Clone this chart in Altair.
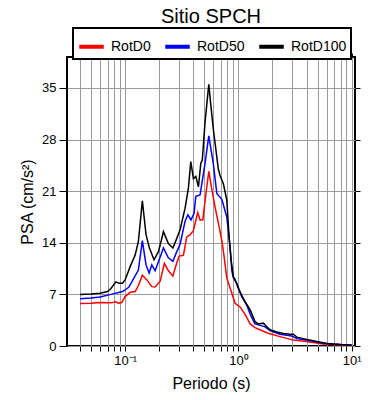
import altair as alt
import pandas as pd

# ---- data ----
series_names = ["RotD0", "RotD50", "RotD100"]
series_colors = ["#ff0000", "#0000ff", "#000000"]

period_d0 = [0.040, 0.050, 0.060, 0.075, 0.083, 0.087, 0.0935, 0.100, 0.111, 0.123,
             0.131, 0.142, 0.155, 0.172, 0.184, 0.204, 0.222, 0.241, 0.264, 0.286,
             0.300, 0.327, 0.350, 0.375, 0.400, 0.438, 0.459, 0.485, 0.508, 0.548,
             0.580, 0.623, 0.680, 0.720, 0.750, 0.790, 0.870, 0.935, 1.035, 1.146,
             1.270, 1.400, 1.550, 1.720, 1.900, 2.330, 3.060, 4.000, 5.600, 10.0]
psa_d0 = [5.75, 5.8, 5.9, 5.85, 6.0, 5.8, 5.9, 6.7, 7.3, 7.4,
          8.2, 9.6, 9.0, 8.05, 8.0, 8.8, 11.2, 10.2, 9.5, 11.3,
          12.2, 12.3, 14.8, 15.1, 15.6, 18.1, 17.1, 17.1, 19.7, 23.7,
          21.4, 18.8, 16.0, 14.0, 12.0, 9.2, 7.3, 5.8, 5.3, 4.3,
          3.0, 2.5, 2.2, 1.9, 1.65, 1.27, 0.8, 0.6, 0.27, 0.05]

period_d50 = [0.040, 0.050, 0.060, 0.075, 0.095, 0.100, 0.108, 0.131, 0.142, 0.153,
              0.163, 0.172, 0.184, 0.200, 0.218, 0.240, 0.264, 0.286, 0.306, 0.338,
              0.358, 0.382, 0.406, 0.421, 0.459, 0.508, 0.548, 0.600, 0.645, 0.714,
              0.790, 0.845, 0.874, 0.900, 0.968, 1.070, 1.190, 1.270, 1.400, 1.550,
              1.720, 1.900, 2.330, 2.960, 3.280, 4.000, 5.630, 7.900, 10.0]
psa_d50 = [6.4, 6.5, 6.65, 7.0, 7.4, 7.6, 8.0, 10.3, 14.3, 11.0,
           9.9, 11.0, 10.2, 11.7, 13.3, 12.0, 11.5, 12.8, 13.8, 16.9,
           17.8, 17.1, 18.0, 20.3, 20.5, 24.8, 28.5, 24.8, 20.7, 19.9,
           17.5, 13.5, 10.3, 9.3, 8.5, 6.7, 5.5, 4.3, 3.0, 2.8,
           2.6, 2.1, 1.6, 1.35, 1.0, 0.8, 0.38, 0.2, 0.1]

period_d100 = [0.040, 0.050, 0.060, 0.070, 0.075, 0.083, 0.0885, 0.0947, 0.100, 0.111,
               0.1225, 0.131, 0.142, 0.153, 0.164, 0.180, 0.197, 0.218, 0.241, 0.264,
               0.286, 0.306, 0.3385, 0.362, 0.380, 0.401, 0.421, 0.444, 0.466, 0.480,
               0.508, 0.548, 0.571, 0.600, 0.623, 0.665, 0.690, 0.737, 0.790, 0.830,
               0.862, 0.903, 0.935, 1.000, 1.035, 1.146, 1.270, 1.404, 1.500, 1.662,
               1.781, 1.905, 2.183, 2.495, 2.860, 3.058, 3.277, 3.748, 4.010, 4.920,
               6.030, 7.900, 10.0]
psa_d100 = [7.0, 7.05, 7.15, 7.4, 7.8, 8.7, 8.5, 8.5, 8.96, 10.8,
            12.3, 14.2, 19.7, 15.1, 13.3, 11.7, 12.8, 15.5, 13.9, 13.3,
            14.6, 15.8, 18.7, 21.4, 25.0, 22.7, 23.0, 21.6, 24.8, 25.2,
            30.4, 35.5, 32.7, 29.5, 27.5, 24.0, 23.1, 22.0, 19.8, 14.5,
            11.7, 9.4, 9.0, 7.8, 7.3, 6.0, 4.9, 3.3, 3.0, 3.1,
            2.6, 2.2, 1.9, 1.7, 1.6, 1.6, 1.2, 1.0, 0.9, 0.6,
            0.35, 0.2, 0.12]

x_ticks = [0.04, 0.05, 0.06, 0.07, 0.08, 0.09,
           0.1, 0.2, 0.3, 0.4, 0.5, 0.6, 0.7, 0.8, 0.9,
           1, 2, 3, 4, 5, 6, 7, 8, 9, 10]
y_ticks = [0, 7, 14, 21, 28, 35]
x_domain = [0.0307, 10.7]
y_domain = [0, 39.2]

rows = []
for name, per, val in [("RotD0", period_d0, psa_d0),
                       ("RotD50", period_d50, psa_d50),
                       ("RotD100", period_d100, psa_d100)]:
    for i, (p, v) in enumerate(zip(per, val)):
        rows.append({"serie": name, "periodo": p, "psa": v, "orden": i})
df = pd.DataFrame(rows)

FONT = "Liberation Sans"
label_expr = ("datum.value == 0.1 ? '10\u207b\u00b9' : datum.value == 1 ? '10\u2070' : "
              "datum.value == 10 ? '10\u00b9' : ''")

xscale = alt.Scale(type="log", domain=x_domain, nice=False)
yscale = alt.Scale(domain=y_domain, nice=False, zero=False)
cscale = alt.Scale(domain=series_names, range=series_colors)

base = alt.Chart(df)

lines = base.mark_line(strokeWidth=1.5, clip=True).encode(
    x=alt.X("periodo:Q", scale=xscale,
            axis=alt.Axis(orient="bottom", values=x_ticks, labelExpr=label_expr,
                          title="Periodo (s)", grid=True, tickSize=5, labelPadding=3,
                          labelFontSize=13, titleFontSize=16, titlePadding=8,
                          labelFlush=False)),
    y=alt.Y("psa:Q", scale=yscale,
            axis=alt.Axis(orient="left", values=y_ticks, title="PSA (cm/s\u00b2)",
                          grid=True, tickSize=8, labelPadding=3, labelFontSize=13,
                          titleFontSize=16, titlePadding=6)),
    color=alt.Color("serie:N", scale=cscale, sort=series_names,
                    legend=alt.Legend(orient="none", legendX=6, legendY=-29,
                                      direction="horizontal", title=None,
                                      symbolType="stroke", symbolSize=600,
                                      symbolStrokeWidth=4, labelFontSize=14,
                                      labelFont=FONT, labelOffset=5,
                                      columnPadding=6, padding=4,
                                      strokeColor="black", fillColor="white")),
    order="orden:Q",
)

frame_axes = base.mark_line(opacity=0).encode(
    x=alt.X("periodo:Q", scale=xscale,
            axis=alt.Axis(orient="top", values=x_ticks, labels=False, title=None,
                          grid=False, tickSize=4)),
    y=alt.Y("psa:Q", scale=yscale,
            axis=alt.Axis(orient="right", values=y_ticks, labels=False, title=None,
                          grid=False, tickSize=5)),
    detail="serie:N",
)

chart = alt.layer(lines, frame_axes).resolve_axis(
    x="independent", y="independent"
).properties(
    width=288,
    height=289,
    title=alt.TitleParams("Sitio SPCH", fontSize=20, font=FONT, fontWeight="normal",
                          anchor="middle", offset=0, dy=16, baseline="alphabetic"),
    autosize=alt.AutoSizeParams(type="none"),
    padding={"left": 59, "top": 49, "right": 20, "bottom": 52},
).configure_view(
    stroke="black", strokeWidth=2
).configure_legend(
    strokeWidth=2
).configure_axis(
    labelFont=FONT, titleFont=FONT, titleFontWeight="normal",
    domain=False, gridColor="#9a9a9a", gridWidth=1, gridOpacity=1,
    tickColor="black", tickWidth=1, labelColor="black", titleColor="black"
)

chart.save("out.html", embed_options={"renderer": "svg", "actions": False})
